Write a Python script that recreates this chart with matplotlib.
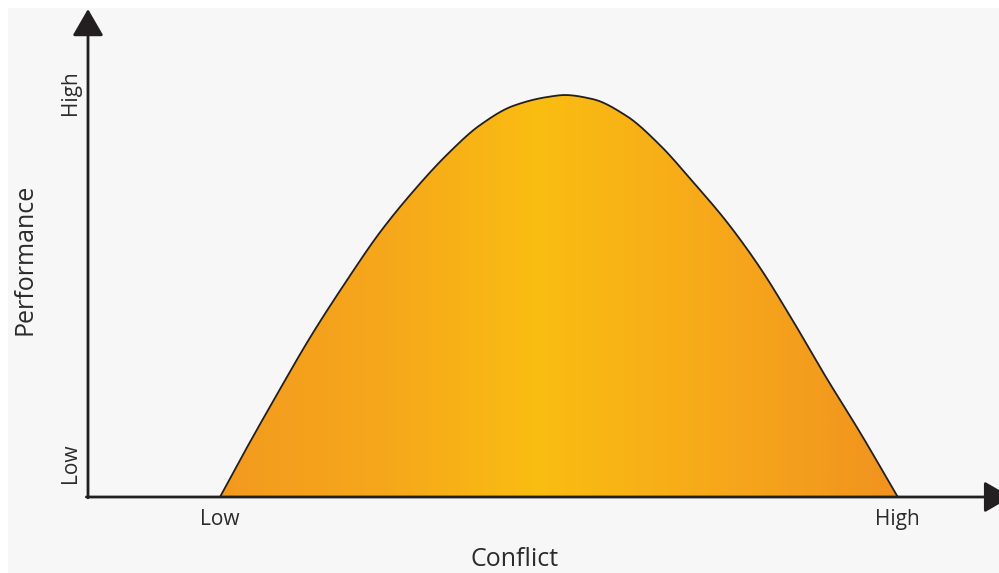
import numpy as np
import matplotlib.pyplot as plt
from matplotlib.colors import LinearSegmentedColormap
from matplotlib.patches import Rectangle, Polygon

plt.rcParams['font.family'] = ['Open Sans', 'DejaVu Sans']

# curve read along the conflict axis (0 = origin, 10 = "High")
conflict = [1.63, 1.91, 2.33, 2.74, 3.20, 3.60, 4.01, 4.43, 4.84, 5.25, 5.67,
            5.89, 6.23, 6.65, 7.06, 7.47, 7.89, 8.30, 8.70, 9.12, 9.53, 10.0]
performance = [0.0, 1.04, 2.54, 3.96, 5.40, 6.57, 7.59, 8.51, 9.25, 9.73, 9.95,
               10.0, 9.90, 9.48, 8.76, 7.84, 6.84, 5.70, 4.40, 2.96, 1.62, 0.0]

x_ticks = [1.63, 10.0]
x_ticklabels = ['Low', 'High']
y_ticks = [0.85, 10.07]
y_ticklabels = ['Low', 'High']

ink = '#231f20'
text_col = '#2b2b2b'


def smooth(xs, ys, n=30):
    # monotone cubic (pchip) through the read points for a clean outline
    x = np.asarray(xs, float)
    y = np.asarray(ys, float)
    h = np.diff(x)
    delta = np.diff(y) / h
    d = np.zeros_like(y)
    d[0], d[-1] = delta[0], delta[-1]
    for k in range(1, len(x) - 1):
        if delta[k - 1] * delta[k] > 0:
            w1 = 2 * h[k] + h[k - 1]
            w2 = h[k] + 2 * h[k - 1]
            d[k] = (w1 + w2) / (w1 / delta[k - 1] + w2 / delta[k])
    px, py = [], []
    t = np.linspace(0, 1, n, endpoint=False)
    for k in range(len(h)):
        h00 = 2 * t ** 3 - 3 * t ** 2 + 1
        h10 = t ** 3 - 2 * t ** 2 + t
        h01 = -2 * t ** 3 + 3 * t ** 2
        h11 = t ** 3 - t ** 2
        px.append(x[k] + t * h[k])
        py.append(h00 * y[k] + h10 * h[k] * d[k] + h01 * y[k + 1] + h11 * h[k] * d[k + 1])
    px.append([x[-1]])
    py.append([y[-1]])
    return np.concatenate(px), np.clip(np.concatenate(py), 0, None)


fig = plt.figure(figsize=(9.99, 5.73), dpi=100, facecolor='white')
fig.patches.append(Rectangle((8 / 999, 0), 1, 1 - 8 / 573, transform=fig.transFigure,
                             facecolor='#f7f7f7', edgecolor='none', zorder=-10))

ax = fig.add_axes([88 / 999, 76 / 573, 911 / 999, 488 / 573])
ax.set_xlim(0, 11.25)
ax.set_ylim(0, 12.14)
ax.patch.set_visible(False)
for s in ax.spines.values():
    s.set_visible(False)
ax.set_xticks([])
ax.set_yticks([])

sx, sy = smooth(conflict, performance)

# orange -> yellow -> orange gradient clipped to the curve
cmap = LinearSegmentedColormap.from_list('warm', [
    (0.0, '#f39a1f'), (0.25, '#f6a81b'), (0.47, '#fabd11'),
    (0.75, '#f6a71b'), (1.0, '#f1931f')])
grad = np.linspace(0, 1, 400)[None, :]
img = ax.imshow(grad, cmap=cmap, aspect='auto', origin='lower',
                extent=[min(conflict), max(conflict), 0, max(performance)], zorder=1)
shape = Polygon(np.column_stack([sx, sy]), closed=True, transform=ax.transData,
                facecolor='none', edgecolor='none')
ax.add_patch(shape)
img.set_clip_path(shape)
ax.plot(sx, sy, color=ink, lw=1.3, zorder=3)

# axes with arrowheads
arrow = dict(arrowstyle='-|>,head_length=0.83,head_width=0.48', color=ink, lw=2.0,
             shrinkA=0, shrinkB=0, mutation_scale=20)
ax.annotate('', xy=(0, 12.14), xytext=(0, -0.02), arrowprops=arrow, annotation_clip=False)
ax.annotate('', xy=(11.4, 0), xytext=(-0.02, 0), arrowprops=arrow, annotation_clip=False)

for x, lab in zip(x_ticks, x_ticklabels):
    ax.text(x, -0.70, lab, ha='center', va='baseline', fontsize=15, color=text_col)
for y, lab in zip(y_ticks, y_ticklabels):
    ax.text(-0.22, y, lab, ha='center', va='center', rotation=90, fontsize=15,
            color=text_col)

ax.text(5.27, -1.72, 'Conflict', ha='center', va='baseline', fontsize=18, color=text_col)
ax.text(-0.78, 5.9, 'Performance', ha='center', va='center', rotation=90, fontsize=18,
        color=text_col)

fig.savefig('out.png', dpi=100)
